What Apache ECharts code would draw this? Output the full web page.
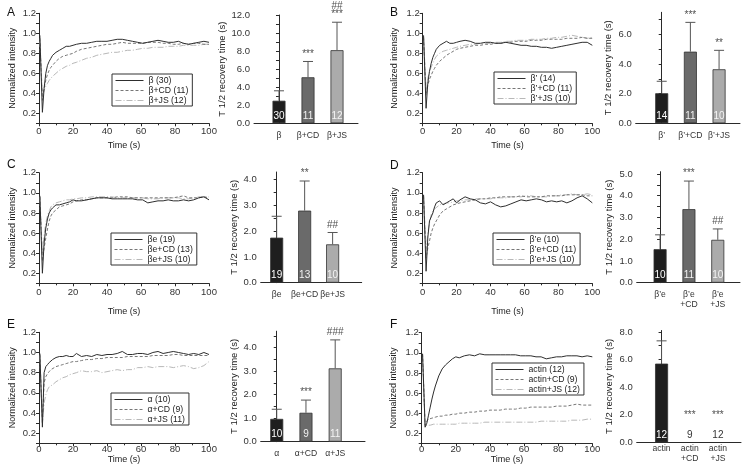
<!DOCTYPE html>
<html><head><meta charset="utf-8">
<script src="https://cdn.jsdelivr.net/npm/echarts@6/dist/echarts.min.js"></script>
<style>html,body{margin:0;padding:0;background:#fff}#c{width:750px;height:476px}</style>
</head><body><div id="c"></div>
<script>
// ---------------- DATA ----------------
const time = [0.5, 2, 3, 4, 5, 6, 7, 8, 10, 12, 14, 16, 18, 20, 22, 25, 28, 31, 34, 37, 40, 43, 46, 49, 52, 55, 58, 61, 64, 67, 70, 73, 76, 79, 82, 85, 88, 91, 94, 97, 100];

// Panel A
const A_names = ['β (30)', 'β+CD (11)', 'β+JS (12)'];
const A_ctl = [0.98, 0.21, 0.45, 0.60, 0.68, 0.72, 0.75, 0.78, 0.81, 0.83, 0.85, 0.87, 0.87, 0.88, 0.89, 0.90, 0.90, 0.91, 0.92, 0.92, 0.92, 0.93, 0.94, 0.94, 0.93, 0.92, 0.91, 0.90, 0.91, 0.92, 0.93, 0.92, 0.91, 0.91, 0.92, 0.90, 0.89, 0.90, 0.91, 0.92, 0.91];
const A_cd  = [0.95, 0.33, 0.45, 0.53, 0.59, 0.63, 0.66, 0.68, 0.72, 0.75, 0.77, 0.78, 0.79, 0.80, 0.82, 0.84, 0.85, 0.86, 0.87, 0.88, 0.89, 0.89, 0.90, 0.91, 0.90, 0.90, 0.90, 0.90, 0.91, 0.91, 0.91, 0.90, 0.90, 0.89, 0.89, 0.90, 0.89, 0.90, 0.90, 0.89, 0.89];
const A_js  = [0.92, 0.38, 0.43, 0.47, 0.50, 0.53, 0.55, 0.57, 0.60, 0.63, 0.65, 0.67, 0.68, 0.70, 0.71, 0.73, 0.75, 0.76, 0.78, 0.79, 0.80, 0.81, 0.81, 0.82, 0.83, 0.83, 0.84, 0.85, 0.85, 0.86, 0.86, 0.86, 0.87, 0.87, 0.87, 0.88, 0.88, 0.88, 0.88, 0.89, 0.89];
const A_cats = ['β', 'β+CD', 'β+JS'];
const A_mean = [2.5, 5.1, 8.1];
const A_sd = [1.1, 1.75, 3.1];
const A_n = [30, 11, 12];
const A_sig = ['', '***', '##\n***'];

// Panel B
const B_names = ['β’ (14)', 'β’+CD (11)', 'β’+JS (10)'];
const B_ctl = [0.98, 0.25, 0.50, 0.62, 0.70, 0.76, 0.80, 0.84, 0.88, 0.90, 0.92, 0.90, 0.90, 0.91, 0.92, 0.93, 0.92, 0.90, 0.90, 0.91, 0.91, 0.90, 0.90, 0.91, 0.90, 0.89, 0.88, 0.88, 0.87, 0.87, 0.86, 0.86, 0.85, 0.86, 0.87, 0.88, 0.89, 0.90, 0.91, 0.91, 0.88];
const B_cd  = [0.96, 0.38, 0.48, 0.54, 0.58, 0.62, 0.65, 0.68, 0.72, 0.75, 0.78, 0.80, 0.82, 0.84, 0.85, 0.86, 0.87, 0.88, 0.88, 0.89, 0.89, 0.90, 0.90, 0.91, 0.91, 0.92, 0.92, 0.92, 0.93, 0.93, 0.93, 0.94, 0.94, 0.94, 0.94, 0.95, 0.95, 0.95, 0.96, 0.95, 0.95];
const B_js  = [0.97, 0.42, 0.55, 0.62, 0.66, 0.70, 0.74, 0.77, 0.80, 0.82, 0.83, 0.84, 0.85, 0.86, 0.87, 0.88, 0.89, 0.89, 0.90, 0.90, 0.90, 0.91, 0.91, 0.92, 0.92, 0.93, 0.93, 0.93, 0.94, 0.94, 0.94, 0.95, 0.95, 0.96, 0.96, 0.97, 0.98, 0.97, 0.96, 0.95, 0.96];
const B_cats = ['β’', 'β’+CD', 'β’+JS'];
const B_mean = [2.03, 4.84, 3.65];
const B_sd = [0.81, 1.98, 1.28];
const B_n = [14, 11, 10];
const B_sig = ['', '***', '**'];

// Panel C
const C_names = ['βe (19)', 'βe+CD (13)', 'βe+JS (10)'];
const C_ctl = [0.97, 0.20, 0.50, 0.65, 0.74, 0.80, 0.83, 0.85, 0.88, 0.88, 0.89, 0.90, 0.91, 0.93, 0.92, 0.92, 0.93, 0.94, 0.95, 0.95, 0.95, 0.94, 0.94, 0.94, 0.94, 0.94, 0.93, 0.93, 0.90, 0.91, 0.92, 0.92, 0.93, 0.92, 0.92, 0.93, 0.92, 0.93, 0.95, 0.96, 0.93];
const C_cd  = [0.96, 0.32, 0.45, 0.55, 0.64, 0.72, 0.77, 0.80, 0.83, 0.86, 0.87, 0.88, 0.89, 0.91, 0.92, 0.93, 0.93, 0.94, 0.95, 0.95, 0.95, 0.95, 0.96, 0.96, 0.96, 0.95, 0.95, 0.95, 0.95, 0.95, 0.95, 0.95, 0.95, 0.95, 0.96, 0.97, 0.95, 0.95, 0.95, 0.96, 0.95];
const C_js  = [0.96, 0.40, 0.58, 0.70, 0.77, 0.82, 0.86, 0.88, 0.90, 0.91, 0.92, 0.93, 0.93, 0.94, 0.94, 0.95, 0.95, 0.96, 0.96, 0.96, 0.96, 0.96, 0.95, 0.95, 0.95, 0.95, 0.95, 0.95, 0.94, 0.94, 0.94, 0.95, 0.95, 0.95, 0.95, 0.94, 0.94, 0.95, 0.96, 0.96, 0.96];
const C_cats = ['βe', 'βe+CD', 'βe+JS'];
const C_mean = [1.75, 2.80, 1.49];
const C_sd = [0.83, 1.15, 0.46];
const C_n = [19, 13, 10];
const C_sig = ['', '**', '##'];

// Panel D
const D_names = ['β’e (10)', 'β’e+CD (11)', 'β’e+JS (10)'];
const D_ctl = [0.98, 0.22, 0.55, 0.72, 0.76, 0.80, 0.86, 0.90, 0.92, 0.88, 0.90, 0.92, 0.94, 0.90, 0.93, 0.96, 0.94, 0.93, 0.90, 0.89, 0.91, 0.88, 0.86, 0.87, 0.89, 0.91, 0.93, 0.92, 0.93, 0.94, 0.93, 0.91, 0.92, 0.91, 0.92, 0.90, 0.92, 0.95, 0.97, 0.94, 0.90];
const D_cd  = [0.97, 0.35, 0.45, 0.52, 0.60, 0.65, 0.69, 0.72, 0.78, 0.82, 0.84, 0.86, 0.88, 0.89, 0.90, 0.91, 0.92, 0.93, 0.94, 0.94, 0.95, 0.95, 0.96, 0.96, 0.96, 0.96, 0.97, 0.96, 0.96, 0.96, 0.96, 0.97, 0.97, 0.97, 0.97, 0.98, 0.98, 0.98, 0.98, 0.97, 0.97];
const D_js  = [0.98, 0.42, 0.60, 0.70, 0.78, 0.82, 0.84, 0.85, 0.88, 0.89, 0.90, 0.90, 0.91, 0.92, 0.92, 0.93, 0.93, 0.94, 0.94, 0.94, 0.94, 0.95, 0.95, 0.95, 0.96, 0.96, 0.96, 0.97, 0.97, 0.96, 0.96, 0.96, 0.97, 0.97, 0.98, 0.98, 0.99, 0.98, 0.98, 0.99, 0.98];
const D_cats = ['β’e', 'β’e\n+CD', 'β’e\n+JS'];
const D_mean = [1.54, 3.38, 1.97];
const D_sd = [0.66, 1.29, 0.50];
const D_n = [10, 11, 10];
const D_sig = ['', '***', '##'];

// Panel E
const E_names = ['α (10)', 'α+CD (9)', 'α+JS (11)'];
const E_ctl = [0.99, 0.26, 0.80, 0.86, 0.88, 0.90, 0.89, 0.93, 0.95, 0.96, 0.96, 0.97, 0.96, 0.96, 0.99, 0.96, 0.97, 0.96, 0.98, 0.97, 0.98, 0.98, 0.99, 1.01, 0.98, 0.98, 0.99, 0.99, 0.98, 1.00, 1.01, 0.99, 1.00, 1.01, 1.00, 0.99, 0.98, 0.99, 0.98, 1.00, 0.98];
const E_cd  = [0.98, 0.30, 0.70, 0.76, 0.79, 0.81, 0.83, 0.84, 0.86, 0.87, 0.88, 0.89, 0.90, 0.91, 0.91, 0.92, 0.93, 0.93, 0.94, 0.94, 0.95, 0.95, 0.95, 0.95, 0.96, 0.96, 0.96, 0.96, 0.96, 0.97, 0.97, 0.97, 0.97, 0.98, 0.98, 0.97, 0.97, 0.97, 0.97, 0.97, 0.97];
const E_js  = [0.97, 0.30, 0.50, 0.58, 0.63, 0.66, 0.67, 0.68, 0.71, 0.73, 0.75, 0.76, 0.78, 0.79, 0.80, 0.82, 0.81, 0.81, 0.82, 0.80, 0.81, 0.82, 0.83, 0.82, 0.83, 0.83, 0.85, 0.85, 0.86, 0.85, 0.86, 0.86, 0.86, 0.85, 0.86, 0.87, 0.86, 0.84, 0.85, 0.87, 0.91];
const E_cats = ['α', 'α+CD', 'α+JS'];
const E_mean = [0.97, 1.23, 3.12];
const E_sd = [0.41, 0.54, 1.21];
const E_n = [10, 9, 11];
const E_sig = ['', '***', '###'];

// Panel F
const F_names = ['actin (12)', 'actin+CD (9)', 'actin+JS (12)'];
const F_ctl = [0.99, 0.26, 0.30, 0.38, 0.46, 0.54, 0.61, 0.67, 0.77, 0.84, 0.88, 0.91, 0.94, 0.96, 0.95, 0.97, 0.98, 0.97, 0.99, 0.98, 0.98, 0.98, 0.98, 0.98, 0.98, 0.98, 0.97, 0.97, 0.97, 0.96, 0.96, 0.94, 0.95, 0.96, 0.96, 0.97, 0.97, 0.97, 0.96, 0.97, 0.96];
const F_cd  = [0.99, 0.28, 0.32, 0.34, 0.35, 0.35, 0.36, 0.36, 0.37, 0.37, 0.38, 0.38, 0.39, 0.39, 0.40, 0.40, 0.41, 0.41, 0.42, 0.42, 0.43, 0.43, 0.43, 0.44, 0.44, 0.44, 0.45, 0.45, 0.46, 0.46, 0.46, 0.46, 0.46, 0.47, 0.47, 0.47, 0.48, 0.49, 0.48, 0.48, 0.48];
const F_js  = [0.98, 0.26, 0.28, 0.28, 0.28, 0.28, 0.29, 0.29, 0.29, 0.29, 0.29, 0.29, 0.29, 0.29, 0.30, 0.30, 0.30, 0.30, 0.30, 0.31, 0.31, 0.31, 0.31, 0.31, 0.31, 0.31, 0.31, 0.31, 0.31, 0.31, 0.32, 0.32, 0.32, 0.32, 0.32, 0.32, 0.33, 0.33, 0.33, 0.34, 0.34];
const F_cats = ['actin', 'actin\n+CD', 'actin\n+JS'];
const F_mean = [5.7, 0, 0];
const F_sd = [1.65, 0, 0];
const F_n = [12, 9, 12];
const F_sig = ['', '***', '***'];
const F_sigBase = [null, 1.45, 1.45];

const lineYTicks = [0.2, 0.4, 0.6, 0.8, 1.0, 1.2];
const timeTicks = [0, 20, 40, 60, 80, 100];

// ---------------- LAYOUT / STYLE ----------------
const FONT = '"Liberation Sans", Arial, Helvetica, sans-serif';
const AX = '#2a2a2a';
const lineStyles = [
  {color: '#2e2e2e', type: 'solid'},
  {color: '#777777', type: [3, 2]},
  {color: '#b8b8b8', type: [6, 2, 1, 2]}
];
const barColors = ['#1e1e1e', '#6a6a6a', '#ababab'];
const nColors = ['#ffffff', '#f2f2f2', '#f4f4f4'];

const panels = [
  {id: 'A', names: A_names, lines: [A_ctl, A_cd, A_js], cats: A_cats, mean: A_mean, sd: A_sd, n: A_n, sig: A_sig,
   letter: [7, 7], line: {left: 39, top: 13.3, width: 170, height: 110, lblMargin: 3, nameGap: 18, yNameGap: 22},
   legend: {left: 112, top: 74},
   bar: {left: 254, top: 15, width: 104, height: 108.3, ymax: 12, lblStep: 2, tickStep: 1, xmin: -0.862, xmax: 2.724, lblMargin: 7, nameGap: 17}},
  {id: 'B', names: B_names, lines: [B_ctl, B_cd, B_js], cats: B_cats, mean: B_mean, sd: B_sd, n: B_n, sig: B_sig,
   letter: [390, 7], line: {left: 422.7, top: 13.3, width: 169.6, height: 110, lblMargin: 3, nameGap: 18, yNameGap: 24},
   legend: {left: 494, top: 72},
   bar: {left: 635.7, top: 12.3, width: 104.3, height: 111, ymax: 7.5, lblStep: 2, tickStep: 1, xmin: -0.907, xmax: 2.73, lblMargin: 7, nameGap: 22}},
  {id: 'C', names: C_names, lines: [C_ctl, C_cd, C_js], cats: C_cats, mean: C_mean, sd: C_sd, n: C_n, sig: C_sig,
   letter: [7, 159], line: {left: 39, top: 172.7, width: 170, height: 110.6, lblMargin: 4, nameGap: 24, yNameGap: 22},
   legend: {left: 111, top: 233},
   bar: {left: 260.7, top: 172, width: 101, height: 110.7, ymax: 4.3, lblStep: 1, tickStep: 0.5, xmin: -0.571, xmax: 3.04, lblMargin: 7, nameGap: 20}},
  {id: 'D', names: D_names, lines: [D_ctl, D_cd, D_js], cats: D_cats, mean: D_mean, sd: D_sd, n: D_n, sig: D_sig,
   letter: [390, 160], line: {left: 422.7, top: 172.7, width: 169.6, height: 110.6, lblMargin: 4, nameGap: 24, yNameGap: 24},
   legend: {left: 493, top: 233},
   bar: {left: 636.7, top: 171.7, width: 103.3, height: 111, ymax: 5.1, lblStep: 1, tickStep: 0.5, xmin: -0.81, xmax: 2.77, lblMargin: 7, nameGap: 22}},
  {id: 'E', names: E_names, lines: [E_ctl, E_cd, E_js], cats: E_cats, mean: E_mean, sd: E_sd, n: E_n, sig: E_sig,
   letter: [7, 319], line: {left: 39, top: 332.3, width: 170, height: 111, lblMargin: 1, nameGap: 9, yNameGap: 22},
   legend: {left: 111, top: 393},
   bar: {left: 260.7, top: 331.2, width: 104.3, height: 110.5, ymax: 4.7, lblStep: 1, tickStep: 0.5, xmin: -0.549, xmax: 3.02, lblMargin: 7, nameGap: 20}},
  {id: 'F', names: F_names, lines: [F_ctl, F_cd, F_js], cats: F_cats, mean: F_mean, sd: F_sd, n: F_n, sig: F_sig, sigBase: F_sigBase,
   letter: [390, 319], line: {left: 421.7, top: 332.7, width: 170.6, height: 110.6, lblMargin: 1, nameGap: 9, yNameGap: 24},
   legend: {left: 492, top: 363},
   bar: {left: 636.7, top: 330.5, width: 104.3, height: 111.8, ymax: 8.1, lblStep: 2, tickStep: 1, xmin: -0.883, xmax: 2.82, lblMargin: 1, nameGap: 22}}
];

function steps(max, step) { const out = []; for (let v = 0; v <= max + 1e-9; v += step) out.push(Math.round(v * 100) / 100); return out; }

const option = {
  backgroundColor: '#ffffff', animation: false,
  textStyle: {fontFamily: FONT},
  title: [], grid: [], xAxis: [], yAxis: [], series: [], legend: []
};

panels.forEach((p, pi) => {
  option.title.push({text: p.id, left: p.letter[0], top: p.letter[1], padding: 0,
    textStyle: {fontFamily: FONT, fontSize: 12, fontWeight: 'normal', color: '#111'}});
  // ---- line chart ----
  const gL = option.grid.length;
  option.grid.push({left: p.line.left, top: p.line.top, width: p.line.width, height: p.line.height, containLabel: false});
  const xL = option.xAxis.length;
  option.xAxis.push({gridIndex: gL, type: 'value', min: 0, max: 100, interval: 20,
    name: 'Time (s)', nameLocation: 'middle', nameGap: p.line.nameGap,
    nameTextStyle: {fontFamily: FONT, fontSize: 9, color: '#222'},
    axisLine: {lineStyle: {color: AX, width: 1}}, axisTick: {length: 3, lineStyle: {color: AX}},
    minorTick: {show: true, splitNumber: 2, length: 2, lineStyle: {color: AX}},
    axisLabel: {fontFamily: FONT, fontSize: 9.5, color: '#333', margin: p.line.lblMargin, customValues: timeTicks, hideOverlap: false},
    splitLine: {show: false}});
  const yL = option.yAxis.length;
  option.yAxis.push({gridIndex: gL, type: 'value', min: 0.1, max: 1.2, interval: 0.1,
    name: 'Normalized intensity', nameLocation: 'middle', nameGap: p.line.yNameGap,
    nameTextStyle: {fontFamily: FONT, fontSize: 9, color: '#222'},
    axisLine: {show: true, lineStyle: {color: AX, width: 1}}, axisTick: {show: true, length: 3, lineStyle: {color: AX}},
    axisLabel: {fontFamily: FONT, fontSize: 9.5, color: '#333', margin: 3, customValues: lineYTicks, formatter: v => v.toFixed(1), hideOverlap: false},
    splitLine: {show: false}});
  p.lines.forEach((vals, si) => {
    option.series.push({type: 'line', name: p.names[si], xAxisIndex: xL, yAxisIndex: yL,
      data: time.map((t, i) => [t, vals[i]]), showSymbol: false, symbol: 'none',
      lineStyle: {color: lineStyles[si].color, type: lineStyles[si].type, width: 1},
      itemStyle: {color: lineStyles[si].color}, z: 3 - si});
  });
  option.legend.push({data: p.names, left: p.legend.left, top: p.legend.top, orient: 'vertical',
    borderColor: '#333', borderWidth: 1, padding: [2, 4, 1, 3], itemGap: 1, itemWidth: 28, itemHeight: 8,
    selectedMode: false, lineStyle: {width: 1},
    itemStyle: {color: 'rgba(0,0,0,0)', borderWidth: 0, opacity: 0},
    textStyle: {fontFamily: FONT, fontSize: 8.7, color: '#222', lineHeight: 9}});
  // ---- bar chart ----
  const b = p.bar;
  const gB = option.grid.length;
  option.grid.push({left: b.left, top: b.top, width: b.width, height: b.height, containLabel: false});
  const xB = option.xAxis.length;
  option.xAxis.push({gridIndex: gB, type: 'value', min: b.xmin, max: b.xmax,
    axisLine: {onZero: false, lineStyle: {color: AX, width: 1}}, axisTick: {show: false}, splitLine: {show: false},
    axisLabel: {fontFamily: FONT, fontSize: 8.6, color: '#333', margin: b.lblMargin, lineHeight: 10,
      customValues: [0, 1, 2], formatter: v => p.cats[Math.round(v)] || '', hideOverlap: false,
      showMinLabel: true, showMaxLabel: true}});
  const yB = option.yAxis.length;
  option.yAxis.push({gridIndex: gB, type: 'value', min: 0, max: b.ymax,
    name: 'T 1/2 recovery time (s)', nameLocation: 'middle', nameGap: b.nameGap,
    nameTextStyle: {fontFamily: FONT, fontSize: 9.5, color: '#222'},
    axisLine: {show: true, lineStyle: {color: AX, width: 1}},
    axisTick: {show: true, length: 3, lineStyle: {color: AX}, customValues: steps(b.ymax, b.tickStep)},
    axisLabel: {fontFamily: FONT, fontSize: 9.5, color: '#333', margin: 4, customValues: steps(b.ymax, b.lblStep), formatter: v => v.toFixed(1), hideOverlap: false},
    splitLine: {show: false}});
  option.series.push({type: 'bar', xAxisIndex: xB, yAxisIndex: yB, barWidth: 13,
    data: p.mean.map((m, i) => ({value: [i, m],
      itemStyle: {color: barColors[i], borderColor: '#333', borderWidth: m > 0 ? 0.8 : 0},
      label: {color: m > 0 ? nColors[i] : '#333'}})),
    label: {show: true, position: 'insideBottom', distance: 2, fontFamily: FONT, fontSize: 10,
      formatter: prm => String(p.n[prm.dataIndex])}, z: 2});
  option.series.push({type: 'custom', xAxisIndex: xB, yAxisIndex: yB, z: 3,
    data: p.mean.map((m, i) => [i, m, m + p.sd[i]]),
    encode: {x: 0, y: [1, 2]},
    renderItem: (params, api) => {
      const x = api.value(0), lo = api.value(1), hi = api.value(2);
      if (!(hi > lo)) return null;
      const p0 = api.coord([x, lo]), p1 = api.coord([x, hi]);
      const st = {stroke: '#555', lineWidth: 1};
      return {type: 'group', children: [
        {type: 'line', shape: {x1: p0[0], y1: p0[1], x2: p1[0], y2: p1[1]}, style: st},
        {type: 'line', shape: {x1: p1[0] - 5, y1: p1[1], x2: p1[0] + 5, y2: p1[1]}, style: st}
      ]};
    }});
  const sigData = [];
  p.sig.forEach((s, i) => {
    if (!s) return;
    const base = (p.sigBase && p.sigBase[i] != null) ? p.sigBase[i] : p.mean[i] + p.sd[i];
    sigData.push([i, base, s]);
  });
  option.series.push({type: 'scatter', xAxisIndex: xB, yAxisIndex: yB, symbolSize: 1,
    itemStyle: {color: 'rgba(0,0,0,0)'}, data: sigData, z: 4,
    label: {show: true, position: 'top', distance: 3, fontFamily: FONT, fontSize: 10, lineHeight: 8, color: '#222',
      formatter: prm => prm.value[2]}});
});

const chart = echarts.init(document.getElementById('c'), null, {renderer: 'canvas'});
chart.setOption(option);
</script>
</body></html>
